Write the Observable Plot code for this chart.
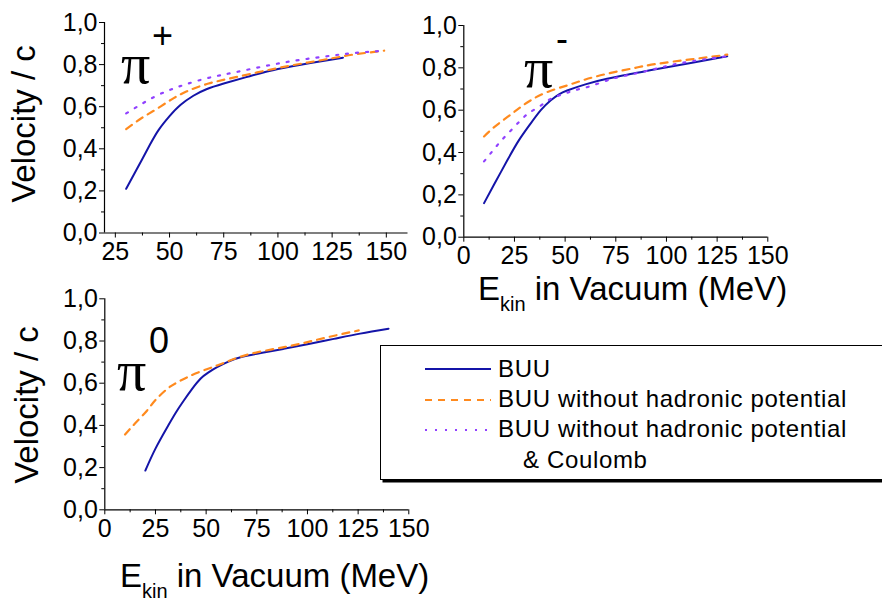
<!DOCTYPE html>
<html><head><meta charset="utf-8">
<script src="https://cdn.jsdelivr.net/npm/d3@7"></script>
<script src="https://cdn.jsdelivr.net/npm/@observablehq/plot@0.6"></script>
<style>
body{margin:0;background:#fff}
#wrap{position:relative;width:882px;height:601px;overflow:hidden;font-family:"Liberation Sans",Arial,sans-serif}
#wrap svg{position:absolute;max-width:none}
</style>
</head><body><div id="wrap"></div>
<script>
// ---- data (E_kin in MeV, velocity / c) ----
const piPlusBUU = [[30,0.21],[35,0.305],[41,0.42],[45,0.49],[50,0.555],[55,0.608],[61,0.652],[67,0.683],[75,0.71],[87,0.745],[100,0.779],[115,0.808],[130,0.833]];
const piPlusNoHad = [[30,0.494],[37,0.545],[44,0.589],[51,0.635],[58,0.673],[68,0.71],[80,0.739],[95,0.773],[110,0.803],[125,0.83],[135,0.848],[149,0.866]];
const piPlusNoHadCoul = [[30,0.568],[37,0.612],[44,0.652],[51,0.683],[58,0.708],[68,0.737],[80,0.763],[95,0.795],[110,0.822],[125,0.843],[135,0.855],[149,0.866]];

const piMinusBUU = [[10,0.161],[15,0.25],[21.4,0.362],[27,0.455],[32.9,0.536],[38,0.6],[42.8,0.646],[47,0.675],[51,0.693],[60,0.722],[70.7,0.748],[83,0.772],[95.4,0.795],[112,0.823],[130,0.855]];
const piMinusNoHad = [[10,0.476],[15,0.52],[21.4,0.567],[27,0.607],[32.9,0.646],[41,0.685],[51,0.717],[60,0.745],[70.7,0.772],[83,0.797],[95.4,0.819],[112,0.84],[130,0.862]];
const piMinusNoHadCoul = [[10,0.358],[14,0.405],[18.1,0.452],[22.7,0.499],[27.5,0.547],[32,0.586],[37.2,0.617],[42,0.649],[46.9,0.669],[51.8,0.685],[56.7,0.699],[61.7,0.711],[66.6,0.727],[71.5,0.743],[76.5,0.756],[91.5,0.788],[106.9,0.822],[130,0.855]];

const piZeroBUU = [[20,0.186],[25,0.29],[30.8,0.391],[35,0.46],[39,0.518],[43,0.572],[47.2,0.621],[51,0.65],[55.4,0.676],[61,0.702],[67,0.723],[77,0.743],[88.3,0.763],[100,0.785],[113,0.81],[126,0.835],[140,0.858]];
const piZeroNoHad = [[10,0.357],[15,0.41],[20.9,0.471],[25,0.52],[30.8,0.573],[35,0.6],[40.6,0.628],[48,0.658],[55.4,0.684],[63,0.712],[71.9,0.739],[84,0.763],[96.5,0.787],[110,0.818],[125.3,0.85]];

const yTicks = [0, 0.2, 0.4, 0.6, 0.8, 1.0];
const yMinorTicks = [0.1, 0.3, 0.5, 0.7, 0.9];
const xTicksPlus = [25, 50, 75, 100, 125, 150];
const xMinorPlus = [37.5, 62.5, 87.5, 112.5, 137.5];
const xTicks = [0, 25, 50, 75, 100, 125, 150];
const xMinor = [12.5, 37.5, 62.5, 87.5, 112.5, 137.5];

const legendLabels = ["BUU", "BUU without hadronic potential", "BUU without hadronic potential", "& Coulomb"];

// ---- styles ----
const FONT = '"Liberation Sans", Arial, sans-serif';
const sBUU = {stroke: "#1414a8", strokeWidth: 2};
const sNoHad = {stroke: "#ff8a1e", strokeWidth: 2.2, strokeDasharray: "7,6"};
const sNoHadCoul = {stroke: "#9040ff", strokeWidth: 2.2, strokeDasharray: "2,8"};
const fmt = d => d.toFixed(1).replace(".", ",");
const wrap = document.getElementById("wrap");

function panel({series, xDomain, xT, xM, left, top, width, height, m}) {
  const marks = [
    Plot.axisY({ticks: yTicks, tickSize: 5, tickPadding: 2, tickFormat: fmt, fontSize: 25, label: null}),
    Plot.axisY({ticks: yMinorTicks, tickSize: 3, tickFormat: () => "", label: null}),
    Plot.axisX({ticks: xT, tickSize: 5, tickPadding: 4, fontSize: 25, label: null}),
    Plot.axisX({ticks: xM, tickSize: 3, tickFormat: () => "", label: null}),
    Plot.ruleX([xDomain[0]], {stroke: "black", strokeWidth: 1.2}),
    Plot.ruleY([0], {stroke: "black", strokeWidth: 1.2}),
    ...series.map(([data, st]) => Plot.line(data, {x: d => d[0], y: d => d[1], curve: "natural", ...st}))
  ];
  const svg = Plot.plot({
    width, height,
    marginLeft: m[0], marginRight: m[1], marginTop: m[2], marginBottom: m[3],
    x: {domain: xDomain},
    y: {domain: [0, 1]},
    style: {background: "transparent", overflow: "visible", fontFamily: FONT, color: "black"},
    marks
  });
  svg.style.left = left + "px";
  svg.style.top = top + "px";
  wrap.appendChild(svg);
  return d3.select(svg);
}

function pionLabel(sel, x, y, sup, supX, supY) {
  sel.append("text").attr("x", x).attr("y", y).attr("text-anchor", "start")
    .attr("font-family", '"Liberation Serif", "Times New Roman", serif')
    .attr("font-size", 58).attr("fill", "black").text("π");
  sel.append("text").attr("x", supX).attr("y", supY).attr("font-family", FONT)
    .attr("font-size", 36).attr("fill", "black").attr("text-anchor", "middle").text(sup);
}
function yLabel(sel, x, y) {
  sel.append("text").attr("transform", `translate(${x},${y}) rotate(-90)`).attr("text-anchor", "middle")
    .attr("font-family", FONT).attr("font-size", 33).attr("fill", "black").text("Velocity / c");
}
function xLabel(sel, x, y) {
  const t = sel.append("text").attr("x", x).attr("y", y).attr("text-anchor", "start")
    .attr("font-family", FONT).attr("font-size", 33).attr("fill", "black");
  t.append("tspan").text("E");
  t.append("tspan").attr("font-size", 20).attr("dy", 11).text("kin");
  t.append("tspan").attr("dy", -11).text(" in Vacuum (MeV)");
}

// Panel π+
const p1 = panel({
  series: [[piPlusBUU, sBUU], [piPlusNoHad, sNoHad], [piPlusNoHadCoul, sNoHadCoul]],
  xDomain: [20, 160], xT: xTicksPlus, xM: xMinorPlus,
  left: 0, top: 0, width: 410, height: 280, m: [104, 2.5, 22, 47.5]
});
yLabel(p1, 35, 124);
pionLabel(p1, 121, 83, "+", 162.5, 48);

// Panel π-
const p2 = panel({
  series: [[piMinusBUU, sBUU], [piMinusNoHad, sNoHad], [piMinusNoHadCoul, sNoHadCoul]],
  xDomain: [0, 150], xT: xTicks, xM: xMinor,
  left: 410, top: 0, width: 472, height: 320, m: [53.3, 114.7, 25, 83.3]
});
xLabel(p2, 68, 300);
pionLabel(p2, 114, 87, "-", 152, 51);

// Panel π0
const p3 = panel({
  series: [[piZeroBUU, sBUU], [piZeroNoHad, sNoHad]],
  xDomain: [0, 150], xT: xTicks, xM: xMinor,
  left: 0, top: 280, width: 440, height: 321, m: [104.3, 31.7, 18.3, 91.7]
});
yLabel(p3, 38, 125);
xLabel(p3, 120, 306.7);
pionLabel(p3, 117, 110, "0", 159, 73);

// Legend
const lg = d3.select(wrap).append("svg").attr("width", 882).attr("height", 601)
  .style("left", "0px").style("top", "0px").style("pointer-events", "none");
lg.append("rect").attr("x", 382.5).attr("y", 348.5).attr("width", 520).attr("height", 134).attr("fill", "black");
lg.append("rect").attr("x", 380.5).attr("y", 345.5).attr("width", 520).attr("height", 134)
  .attr("fill", "white").attr("stroke", "black").attr("stroke-width", 1);
const rows = [
  {st: sBUU, ly: 369, ty: 377},
  {st: sNoHad, ly: 400, ty: 407},
  {st: sNoHadCoul, ly: 430, ty: 437}
];
rows.forEach((r, i) => {
  lg.append("line").attr("x1", 425).attr("x2", 491).attr("y1", r.ly).attr("y2", r.ly)
    .attr("stroke", r.st.stroke).attr("stroke-width", r.st.strokeWidth)
    .attr("stroke-dasharray", r.st.strokeDasharray || null);
  lg.append("text").attr("x", 498).attr("y", r.ty).attr("font-family", FONT).attr("font-size", 24)
    .attr("letter-spacing", 0.65).attr("fill", "black").text(legendLabels[i]);
});
lg.append("text").attr("x", 523).attr("y", 468).attr("font-family", FONT).attr("font-size", 24)
  .attr("letter-spacing", 0.65).attr("fill", "black").text(legendLabels[3]);
</script>
</body></html>
